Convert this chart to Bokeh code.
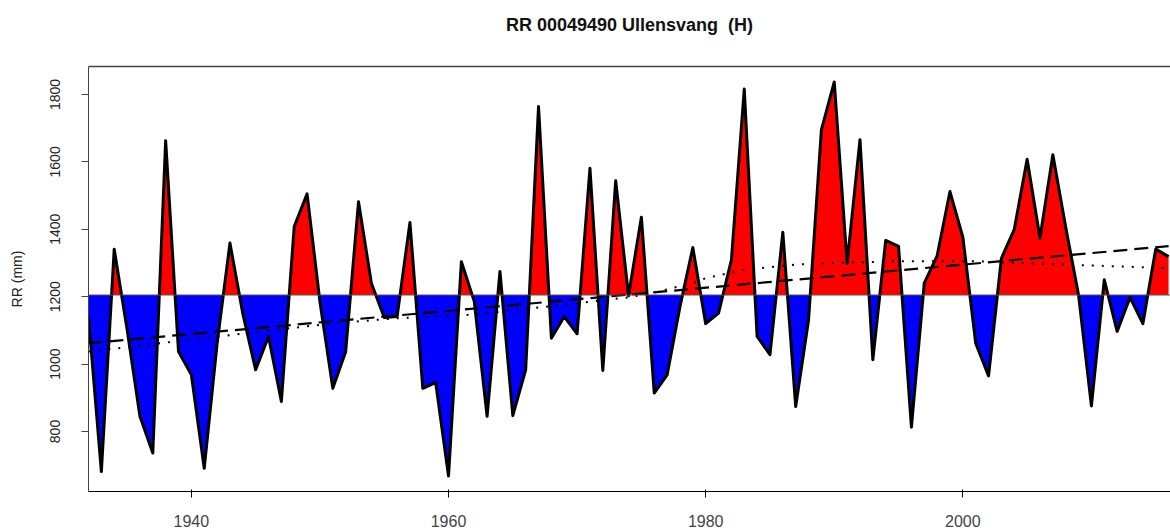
import numpy as np
from bokeh.plotting import figure
from bokeh.models import Range1d, Span, FixedTicker, LinearAxis
from bokeh.embed import file_html
from bokeh.resources import INLINE

# ---- data ----
years = list(range(1932, 2017))
rr = [1140, 681, 1341, 1103, 845, 736, 1663, 1037, 968, 691,
      1060, 1359, 1150, 983, 1082, 889, 1408, 1505, 1185, 928,
      1037, 1482, 1240, 1138, 1141, 1420, 928, 945, 668, 1304,
      1186, 845, 1275, 847, 983, 1764, 1077, 1141, 1090, 1581,
      981, 1544, 1203, 1436, 914, 968, 1170, 1346, 1120, 1151,
      1309, 1816, 1082, 1028, 1391, 874, 1131, 1695, 1837, 1299,
      1666, 1013, 1367, 1349, 813, 1240, 1321, 1512, 1377, 1062,
      965, 1314, 1400, 1608, 1374, 1621, 1406, 1205, 876, 1250,
      1097, 1198, 1120, 1341, 1319]
mean_rr = 1205

trend_years = [1932, 2016]
trend_vals = [1062, 1350]

smooth_years = [1932, 1943, 1951, 1956, 1962, 1967, 1971, 1974, 1976, 1977,
                1979, 1980, 1983, 1987, 1989, 1995, 2001, 2008, 2016]
smooth_vals = [1037, 1086, 1121, 1136, 1147, 1168, 1185, 1198, 1212, 1222,
               1240, 1255, 1280, 1295, 1299, 1305, 1305, 1295, 1285]

x_ticks = [1940, 1960, 1980, 2000, 2020]
y_ticks = [800, 1000, 1200, 1400, 1600, 1800]
title_text = "RR 00049490 Ullensvang\u00a0 (H)"

# ---- insert crossing points with the mean so the fills meet the line ----
xx, yy = [], []
for i in range(len(years) - 1):
    xx.append(years[i]); yy.append(rr[i])
    a, b = rr[i] - mean_rr, rr[i + 1] - mean_rr
    if a * b < 0:
        t = a / (a - b)
        xx.append(years[i] + t); yy.append(mean_rr)
xx.append(years[-1]); yy.append(rr[-1])
xx = np.array(xx, dtype=float); yy = np.array(yy, dtype=float)
upper = np.maximum(yy, mean_rr)
lower = np.minimum(yy, mean_rr)

FONT = "Liberation Sans"
FRAME = "#444444"

p = figure(width=1170, height=531, output_backend="svg", toolbar_location=None,
           x_range=Range1d(1932, 2016.15), y_range=Range1d(622, 1883),
           min_border_left=88, min_border_right=0, min_border_top=66,
           min_border_bottom=40)
p.outline_line_color = None
p.background_fill_color = "white"
p.border_fill_color = "white"
p.xgrid.visible = False
p.ygrid.visible = False

# title drawn as the label of an empty axis above the frame
top_axis = LinearAxis(ticker=FixedTicker(ticks=[]), axis_label=title_text,
                      axis_line_color=FRAME, axis_line_width=1.5,
                      major_tick_line_color=None, minor_tick_line_color=None,
                      major_label_text_font_size="0px",
                      axis_label_text_font=FONT, axis_label_text_font_size="18px",
                      axis_label_text_font_style="bold", axis_label_text_color="#111111",
                      axis_label_standoff=32)
p.add_layout(top_axis, "above")

p.varea(x=xx, y1=np.full_like(upper, mean_rr), y2=upper, fill_color="#FF0000")
p.varea(x=xx, y1=lower, y2=np.full_like(lower, mean_rr), fill_color="#0000FF")
p.add_layout(Span(location=mean_rr, dimension="width", line_color="#555555", line_width=1))
p.line(years, rr, line_color="black", line_width=3, line_join="round")
p.line(trend_years, trend_vals, line_color="black", line_width=2.2, line_dash="14 7")
p.line(smooth_years, smooth_vals, line_color="black", line_width=2, line_dash="2 8")

for ax in (p.xaxis[0], p.yaxis[0]):
    ax.axis_line_color = FRAME
    ax.major_tick_line_color = FRAME
    ax.major_tick_out = 7
    ax.major_tick_in = 0
    ax.minor_tick_line_color = None
    ax.major_label_text_font = FONT
    ax.major_label_text_color = "#222222"

bx = p.below[0]
bx.ticker = FixedTicker(ticks=x_ticks)
bx.major_label_text_font_size = "16px"
bx.major_label_standoff = 17

ly = p.yaxis[0]
ly.ticker = FixedTicker(ticks=y_ticks)
ly.major_label_text_font_size = "14px"
ly.major_label_orientation = "vertical"
ly.major_label_standoff = 21
ly.axis_label = "RR (mm)"
ly.axis_label_text_font = FONT
ly.axis_label_text_font_size = "14px"
ly.axis_label_text_font_style = "normal"
ly.axis_label_text_color = "#222222"
ly.axis_label_standoff = 23

open("out.html", "w").write(file_html(p, INLINE))
